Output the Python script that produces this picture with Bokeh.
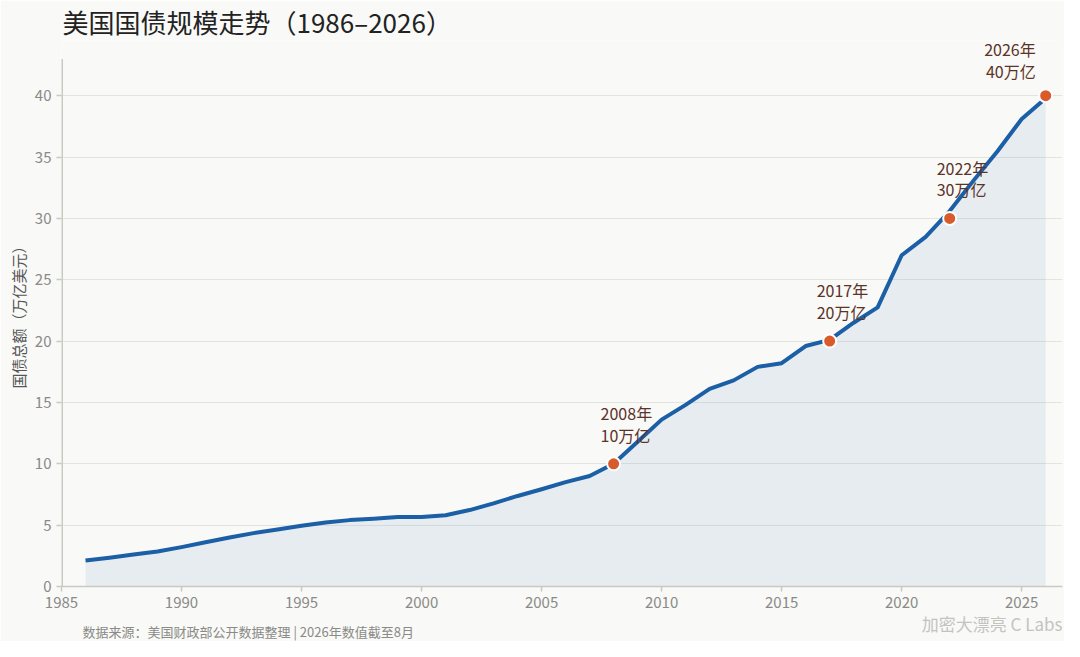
from bokeh.plotting import figure
from bokeh.models import ColumnDataSource, Range1d, FixedTicker, Title
from bokeh.embed import file_html
from bokeh.resources import INLINE
from bokeh.core.properties import value

# ---- data ----
years = list(range(1986, 2027))
debt = [2.12, 2.35, 2.60, 2.86, 3.21, 3.60, 4.00, 4.35, 4.64, 4.95,
        5.22, 5.41, 5.53, 5.66, 5.67, 5.81, 6.23, 6.78, 7.38, 7.93,
        8.51, 9.01, 10.0, 11.8, 13.6, 14.8, 16.1, 16.8, 17.9, 18.2,
        19.6, 20.1, 21.5, 22.75, 27.0, 28.5, 30.6, 33.1, 35.5, 38.1, 39.8]

mark_years = [2008, 2017, 2022, 2026]
mark_values = [10, 20, 30, 40]
mark_labels = ["2008年\n10万亿", "2017年\n20万亿", "2022年\n30万亿", "2026年\n40万亿"]

x_ticks = [1985, 1990, 1995, 2000, 2005, 2010, 2015, 2020, 2025]
y_ticks = [0, 5, 10, 15, 20, 25, 30, 35, 40]
y_axis_top = 43

title_text = "美国国债规模走势（1986–2026）"
y_label = "国债总额（万亿美元）"
source_text = "数据来源：美国财政部公开数据整理 | 2026年数值截至8月"
brand_text = "加密大漂亮 C Labs"

FONT = "Noto Sans CJK SC"
BG = "#f9f9f7"
AXIS = "#c9c9c3"

W, H = 1064, 641
p = figure(width=W, height=H, output_backend="svg", toolbar_location=None,
           x_range=Range1d(1985, 2026.7), y_range=Range1d(0, 44.5),
           min_border_left=61, min_border_right=2, min_border_top=40, min_border_bottom=55)
p.background_fill_color = BG
p.border_fill_color = BG
p.outline_line_color = None

p.xgrid.grid_line_color = None
p.ygrid.grid_line_color = "#e4e4df"
p.ygrid.grid_line_width = 1

# area + line
src = ColumnDataSource(dict(x=years, y=debt, y0=[0] * len(years)))
p.varea(x="x", y1="y0", y2="y", source=src, fill_color="#1b5fa6", fill_alpha=0.08)
p.line(x="x", y="y", source=src, line_color="#1b5fa6", line_width=4, line_join="round")

# y axis spine (stops at 43)
p.segment(x0=[x_ticks[0]], y0=[0], x1=[x_ticks[0]], y1=[y_axis_top],
          line_color=AXIS, line_width=3)

# milestone markers
msrc = ColumnDataSource(dict(x=mark_years, y=mark_values, t=mark_labels))
p.scatter(x="x", y="y", source=msrc, size=13, fill_color="#d95a2b",
          line_color="white", line_width=2)

lsrc = ColumnDataSource(dict(x=mark_years[:-1], y=mark_values[:-1], t=mark_labels[:-1]))
p.text(x="x", y="y", text="t", source=lsrc, text_font=value(FONT), text_font_size="16px",
       text_color="#5b3328", text_align="left", text_baseline="bottom",
       x_offset=-13, y_offset=-17, text_line_height=0.91)
rsrc = ColumnDataSource(dict(x=mark_years[-1:], y=mark_values[-1:], t=mark_labels[-1:]))
p.text(x="x", y="y", text="t", source=rsrc, text_font=value(FONT), text_font_size="16px",
       text_color="#5b3328", text_align="right", text_baseline="bottom",
       x_offset=-10, y_offset=-13, text_line_height=0.91)

# axes
for ax in (p.xaxis[0], p.yaxis[0]):
    ax.axis_line_color = AXIS
    ax.axis_line_width = 1.5
    ax.major_tick_line_color = AXIS
    ax.major_tick_line_width = 1.5
    ax.major_tick_out = 5
    ax.major_tick_in = 0
    ax.minor_tick_line_color = None
    ax.major_label_text_font = FONT
    ax.major_label_text_font_size = "15px"
    ax.major_label_text_color = "#8a8a86"
p.yaxis.axis_line_color = None
p.xaxis.ticker = FixedTicker(ticks=x_ticks)
p.yaxis.ticker = FixedTicker(ticks=y_ticks)
p.yaxis.axis_label = y_label
p.yaxis.axis_label_text_font = FONT
p.yaxis.axis_label_text_font_style = "normal"
p.yaxis.axis_label_text_font_size = "15px"
p.yaxis.axis_label_text_color = "#555555"
p.yaxis.axis_label_standoff = 3

# title
p.add_layout(Title(text=title_text, text_font=FONT, text_font_size="26px",
                   text_font_style="normal", text_color="#222222", align="left",
                   offset=1, standoff=0, vertical_align="middle"), "above")
# brand (below, right)
p.add_layout(Title(text=brand_text, text_font=FONT, text_font_size="17px",
                   text_font_style="normal", text_color="#c4c4bf", align="right",
                   standoff=0, vertical_align="top"), "below")
# footer (below, left; pulled up beside the brand)
p.add_layout(Title(text=source_text, text_font=FONT, text_font_size="13px",
                   text_font_style="normal", text_color="#8a8a86", align="left",
                   offset=21, standoff=-32, vertical_align="top"), "below")

open("out.html", "w").write(file_html(p, INLINE))
